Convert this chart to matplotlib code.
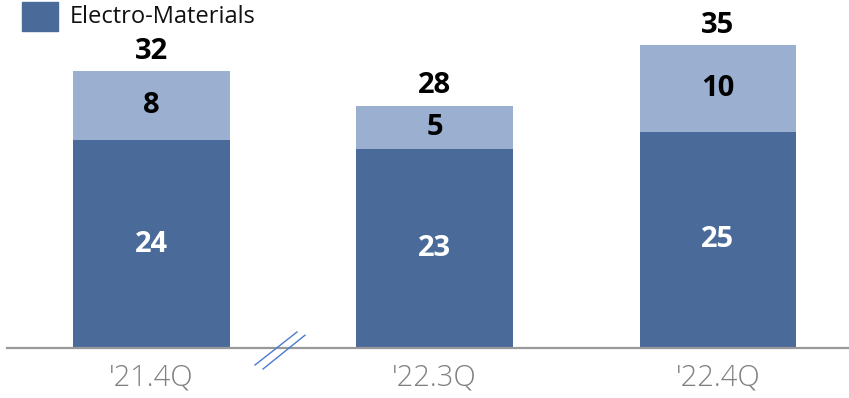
import matplotlib.pyplot as plt
import numpy as np

quarters = ["'21.4Q", "'22.3Q", "'22.4Q"]
lower = [24, 23, 25]
upper = [8, 5, 10]
totals = [32, 28, 35]

dark = "#4a6b9a"
light = "#9bb0d0"

plt.rcParams['font.family'] = ['Open Sans', 'DejaVu Sans']

fig = plt.figure(figsize=(8.49, 3.98), dpi=100)
ax = fig.add_axes([7 / 849, 50 / 398, 842 / 849, 348 / 398])

x = np.arange(len(quarters))
w = 0.554
ax.bar(x, lower, w, color=dark, zorder=2)
ax.bar(x, upper, w, bottom=lower, color=light, zorder=2)

for i in range(len(x)):
    ax.text(x[i], lower[i] / 2, str(lower[i]), ha='center', va='center',
            color='white', fontsize=21, fontweight='bold')
    ax.text(x[i], lower[i] + upper[i] / 2, str(upper[i]), ha='center', va='center',
            color='black', fontsize=21, fontweight='bold')
    ax.text(x[i], totals[i] + 0.6, str(totals[i]), ha='center', va='bottom',
            color='black', fontsize=21, fontweight='bold')

ax.set_xlim(-0.51, 2.4625)
ax.set_ylim(0, 40.2)
ax.set_xticks(x)
ax.set_xticklabels(quarters, fontsize=21, color='#808080', fontweight='light')
ax.tick_params(axis='x', length=0, pad=11)
ax.set_yticks([])
for s in ['top', 'right', 'left']:
    ax.spines[s].set_visible(False)
ax.spines['bottom'].set_color('#999999')
ax.spines['bottom'].set_linewidth(1.6)

# break marks on the axis
for dx in [0, 8]:
    fig.add_artist(plt.Line2D([(255 + dx) / 849, (297 + dx) / 849],
                              [1 - (365 + dx * 0.5) / 398, 1 - (332 + dx * 0.4) / 398],
                              color='#4a7bd0', lw=1.0))

# legend
fig.add_artist(plt.Rectangle((22 / 849, 1 - 31 / 398), 36 / 849, 29 / 398,
                             color=dark, transform=fig.transFigure))
fig.text(70 / 849, 1 - 17 / 398, "Electro-Materials", fontsize=17,
         va='center', ha='left', color='#111111')

fig.savefig("out.png", dpi=100)
